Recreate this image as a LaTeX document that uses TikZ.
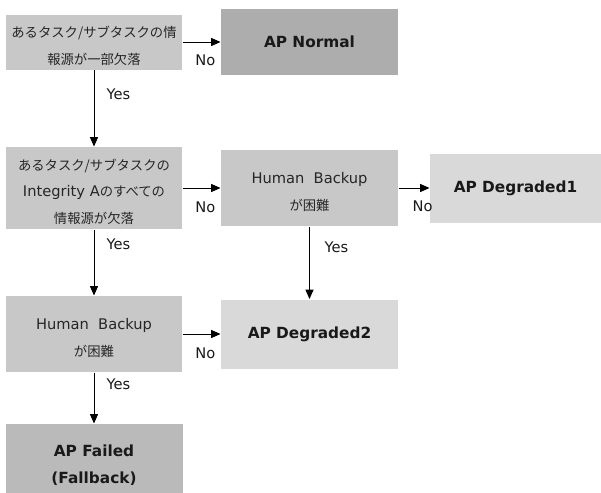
\documentclass[tikz,border=0pt]{standalone}
\usepackage{fontspec}
\setmainfont{DejaVu Sans}
\newfontfamily\jpfont{Noto Sans CJK JP}
\usetikzlibrary{arrows.meta}

\definecolor{askgray}{HTML}{C8C8C8}
\definecolor{normalgray}{HTML}{ADADAD}
\definecolor{failgray}{HTML}{BABABA}
\definecolor{degradegray}{HTML}{D9D9D9}

\newcommand{\jtxt}[1]{{\jpfont\fontsize{10pt}{20pt}\selectfont #1}}
\newcommand{\askgap}{\rule{0pt}{14pt}}

\tikzset{every picture/.style={line width=0.75pt}}

\begin{document}
\begin{tikzpicture}[x=0.75pt,y=0.75pt,yscale=-1,xscale=1,
  ask/.style={fill=askgray, inner sep=0pt, minimum width=132pt, align=center,
    text=black!85, font=\fontsize{11pt}{20pt}\selectfont},
  apstate/.style={inner sep=0pt, minimum width=132.75pt, minimum height=51.75pt,
    align=center, text=black!90, font=\fontsize{11.5pt}{20pt}\selectfont\bfseries},
  flow/.style={-{Triangle[length=7pt,width=6pt]}},
  lab/.style={inner sep=0pt, text=black!90, font=\fontsize{11pt}{13pt}\selectfont}]
\useasboundingbox (0,0) rectangle (601,493);

%Shape: Rectangle [first question]
\node [ask, minimum height=41.25pt] (ask1) at (94,42)
  {\askgap\jtxt{あるタスク/サブタスクの情}\\ \jtxt{報源が一部欠落}};
%Shape: Rectangle [AP Normal]
\node [apstate, fill=normalgray, minimum height=49.5pt] (normal) at (309.5,42) {AP Normal};

%Shape: Rectangle [second question]
\node [ask, minimum height=61.5pt] (ask2) at (94,188)
  {\askgap\jtxt{あるタスク/サブタスクの}\\ Integrity A\jtxt{のすべての}\\ \jtxt{情報源が欠落}};
%Shape: Rectangle [human backup, right]
\node [ask, minimum width=132.75pt, minimum height=57pt] (backupR) at (309.5,188)
  {\askgap Human~~Backup\\ \jtxt{が困難}};
%Shape: Rectangle [AP Degraded1]
\node [apstate, fill=degradegray, minimum width=128.25pt] (degraded1) at (515.5,188) {AP Degraded1};

%Shape: Rectangle [human backup, left]
\node [ask, minimum height=57pt] (backupL) at (94,334)
  {\askgap Human~~Backup\\ \jtxt{が困難}};
%Shape: Rectangle [AP Degraded2]
\node [apstate, fill=degradegray] (degraded2) at (309.5,334) {AP Degraded2};

%Shape: Rectangle [AP Failed]
\node [apstate, fill=failgray] (failed) at (94,458.5) {\rule{0pt}{19pt}AP Failed\\(Fallback)};

%Arrows
\draw [flow] (ask1) -- (normal) node [lab, pos=0.6, below=9pt] {No};
\draw [flow] (ask1) -- (ask2) node [lab, pos=0.32, right=9pt] {Yes};
\draw [flow] (ask2) -- (backupR) node [lab, pos=0.6, below=10pt] {No};
\draw [flow] (backupR) -- (degraded1) node [lab, pos=0.78, below=9pt] {No};
\draw [flow] (ask2) -- (backupL) node [lab, pos=0.22, right=9pt] {Yes};
\draw [flow] (backupR) -- (degraded2) node [lab, pos=0.28, right=11pt] {Yes};
\draw [flow] (backupL) -- (degraded2) node [lab, pos=0.6, below=10pt] {No};
\draw [flow] (backupL) -- (failed) node [lab, pos=0.23, right=9pt] {Yes};

\end{tikzpicture}
\end{document}
